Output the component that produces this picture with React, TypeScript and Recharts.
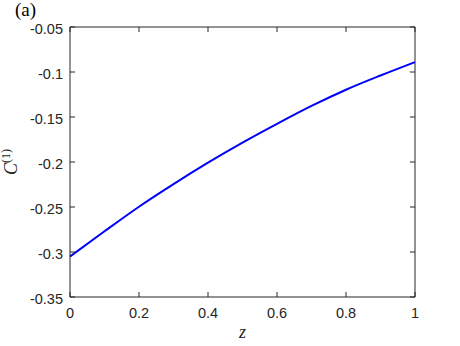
import { LineChart, Line, XAxis, YAxis, ReferenceLine } from "recharts";

// C^(1) against z
const zValues = [0, 0.1, 0.2, 0.3, 0.4, 0.5, 0.6, 0.7, 0.8, 0.9, 1];
const c1Values = [-0.305, -0.277, -0.2497, -0.2246, -0.2008, -0.1785, -0.1576, -0.1377, -0.1197, -0.1039, -0.089];

const xTicks = [0, 0.2, 0.4, 0.6, 0.8, 1];
const yTicks = [-0.35, -0.3, -0.25, -0.2, -0.15, -0.1, -0.05];

const data = zValues.map((z, i) => ({ z, c: c1Values[i] }));

const AXIS = "#262626";
const SANS = "'Liberation Sans', Arial, Helvetica, sans-serif";
const SERIF = "'Liberation Serif', 'Times New Roman', serif";
const TICK_FS = 14.5;

// plot box size, used to mirror the inward ticks onto the top and right edges
const PLOT_W = 345;
const PLOT_H = 270;

const BottomTick = ({ x, y, payload }: any) => (
  <g>
    <line x1={x} x2={x} y1={y} y2={y - 5} stroke={AXIS} strokeWidth={1} />
    <line x1={x} x2={x} y1={y - PLOT_H} y2={y - PLOT_H + 5} stroke={AXIS} strokeWidth={1} />
    <text x={x} y={y + 21} textAnchor="middle" fontSize={TICK_FS} fontFamily={SANS} fill={AXIS}>
      {String(payload.value)}
    </text>
  </g>
);

const LeftTick = ({ x, y, payload }: any) => (
  <g>
    <line x1={x} x2={x + 5} y1={y} y2={y} stroke={AXIS} strokeWidth={1} />
    <line x1={x + PLOT_W} x2={x + PLOT_W - 5} y1={y} y2={y} stroke={AXIS} strokeWidth={1} />
    <text x={x - 7} y={y + 7} textAnchor="end" fontSize={TICK_FS} fontFamily={SANS} fill={AXIS}>
      {String(payload.value)}
    </text>
  </g>
);

// y label C^(1) plus the panel tag "(a)"
const YLabel = () => (
  <g>
    <text
      x={0}
      y={0}
      transform="translate(17 162) rotate(-90)"
      textAnchor="middle"
      style={{ fontFamily: SERIF, fill: AXIS }}
    >
      <tspan style={{ fontSize: 18, fontStyle: "italic" }}>C</tspan>
      <tspan style={{ fontSize: 12 }} dy={-7}>(1)</tspan>
    </text>
    <text x={15} y={16} style={{ fontSize: 19, fontFamily: SERIF, fill: "#000" }}>
      (a)
    </text>
  </g>
);

const XLabel = () => (
  <text
    x={242.5}
    y={338}
    textAnchor="middle"
    style={{ fontSize: 18, fontStyle: "italic", fontFamily: SERIF, fill: AXIS }}
  >
    z
  </text>
);

export default function App() {
  return (
    <div style={{ position: "absolute", left: 0, top: 0, width: 460, height: 346, background: "#fff" }}>
      <LineChart width={460} height={346} data={data} margin={{ top: 27, right: 45, bottom: 0, left: 0 }}>
        <XAxis
          dataKey="z"
          type="number"
          domain={[0, 1]}
          ticks={xTicks}
          height={49}
          tickSize={0}
          tickMargin={0}
          stroke={AXIS}
          tick={<BottomTick />}
          label={{ content: <XLabel /> }}
        />
        <YAxis
          type="number"
          domain={[-0.35, -0.05]}
          ticks={yTicks}
          width={70}
          tickSize={0}
          tickMargin={0}
          stroke={AXIS}
          tick={<LeftTick />}
          label={{ content: <YLabel /> }}
        />
        {/* top and right edges of the box */}
        <ReferenceLine y={-0.05} stroke={AXIS} strokeWidth={1} ifOverflow="visible" />
        <ReferenceLine x={1} stroke={AXIS} strokeWidth={1} ifOverflow="visible" />
        <Line
          type="monotone"
          dataKey="c"
          stroke="#0000ff"
          strokeWidth={2}
          dot={false}
          isAnimationActive={false}
        />
      </LineChart>
    </div>
  );
}
